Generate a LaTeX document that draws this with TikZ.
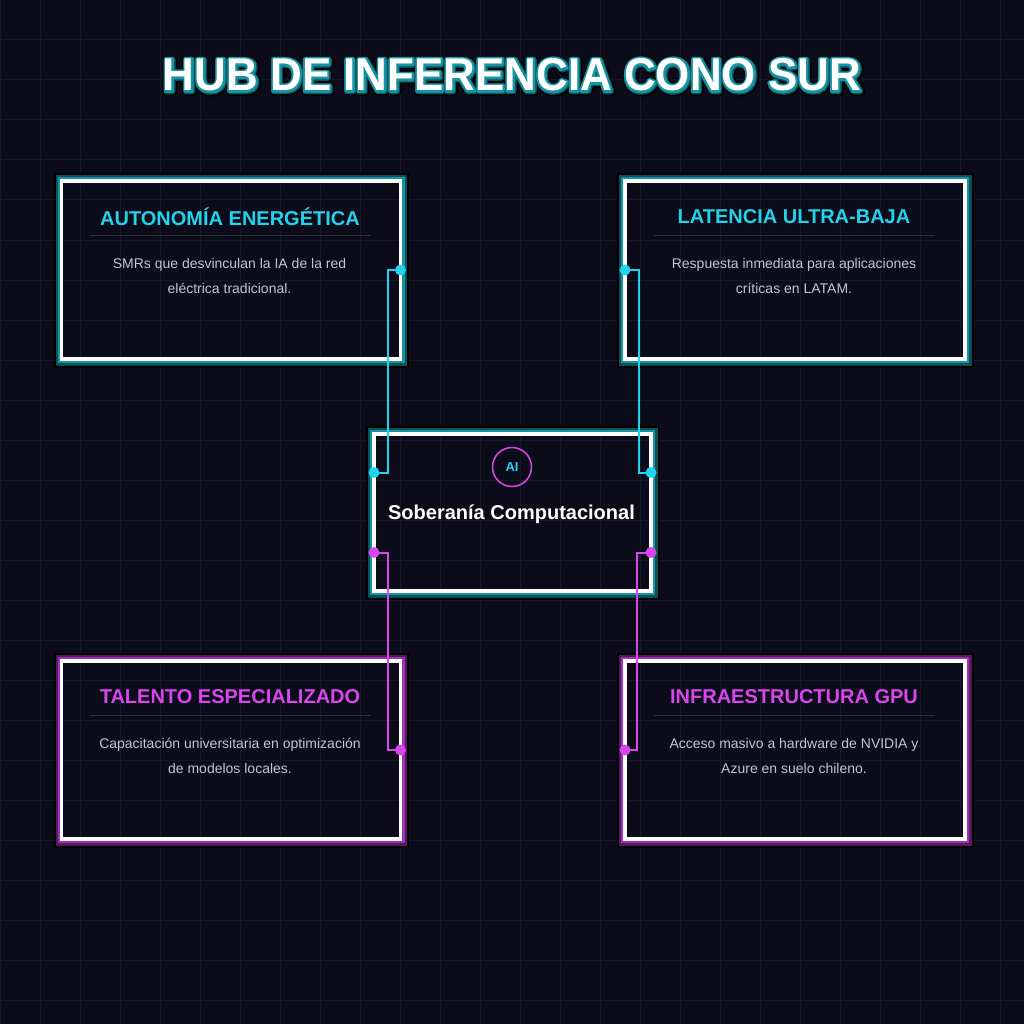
\documentclass[tikz,border=0pt]{standalone}
\usepackage{fontspec}
\setmainfont{Liberation Sans}
\newfontfamily\titleblack[FakeBold=18]{Liberation Sans Bold}
\newfontfamily\titledark[FakeBold=13]{Liberation Sans Bold}
\newfontfamily\titleteal[FakeBold=9]{Liberation Sans Bold}
\usetikzlibrary{calc}
\definecolor{bg}{HTML}{0B0B19}
\definecolor{gridc}{HTML}{17162B}
\definecolor{cyanc}{HTML}{22D3EE}
\definecolor{magc}{HTML}{D946EF}
\definecolor{tealdark}{HTML}{0A5058}
\definecolor{tealmid}{HTML}{1794A4}
\definecolor{magdark}{HTML}{561763}
\definecolor{magmid}{HTML}{A033B5}
\definecolor{bodyc}{HTML}{C4C4D2}
\definecolor{sepc}{HTML}{2C2C3E}
\tikzset{
  card/.style={draw=white, line width=3.5pt, rectangle, outer sep=0pt, inner sep=0pt},
  cardtitle/.style={font=\fontsize{20}{22}\selectfont\bfseries, inner sep=0pt},
  cardbody/.style={font=\fontsize{14}{25}\selectfont, text=bodyc, align=center, inner sep=0pt},
  sepline/.style={draw=sepc, line width=1pt},
  cconn/.style={draw=cyanc, line width=2pt},
  mconn/.style={draw=magc, line width=2pt},
  cdot/.style={circle, fill=cyanc, minimum size=11pt, inner sep=0pt},
  mdot/.style={circle, fill=magc, minimum size=11pt, inner sep=0pt},
  maintitle/.style={inner sep=0pt, xscale=0.955},
}
\newcommand{\glowbands}[3]{%
  \draw[black, line width=2.5pt] ($(#1.north west)+(-6.5,-6.5)$) rectangle ($(#1.south east)+(7.5,7.5)$);
  \draw[#2, line width=2.5pt] ($(#1.north west)+(-4.5,-4.5)$) rectangle ($(#1.south east)+(5.5,5.5)$);
  \draw[#3, line width=2.5pt] ($(#1.north west)+(-2.5,-2.5)$) rectangle ($(#1.south east)+(3,3)$);
}
\begin{document}
\begin{tikzpicture}[x=1pt,y=-1pt]
\useasboundingbox (0,0) rectangle (1024,1024);
\fill[bg] (0,0) rectangle (1024,1024);
% grid
\foreach \i in {0,40,...,1000}{
  \draw[gridc, line width=1pt] (\i,0) -- (\i,1024);
  \draw[gridc, line width=1pt] (0,\i) -- (1024,\i);
}
% main title with glow (stroked copies beneath the white text)
\begin{scope}[line join=round, line cap=round]
\node[maintitle, font=\fontsize{46}{52}\titleblack, text=black] (titleglowa) at (513,76) {HUB DE INFERENCIA CONO SUR};
\node[maintitle, font=\fontsize{46}{52}\titledark, text=tealdark] (titleglowb) at (512.5,75.5) {HUB DE INFERENCIA CONO SUR};
\node[maintitle, font=\fontsize{46}{52}\titleteal, text=tealmid] (titleglowc) at (512,75) {HUB DE INFERENCIA CONO SUR};
\end{scope}
\node[maintitle, font=\fontsize{46}{52}\selectfont\bfseries, text=white] (title) at (512,75) {HUB DE INFERENCIA CONO SUR};

% cards
\node[card, minimum width=339pt, minimum height=178pt] (tl) at (231,270) {};
\node[card, minimum width=340pt, minimum height=178pt] (tr) at (795,270) {};
\node[card, minimum width=339pt, minimum height=178pt] (bl) at (231,750) {};
\node[card, minimum width=340pt, minimum height=178pt] (br) at (795,750) {};
\node[card, minimum width=277pt, minimum height=157pt] (c) at (512.5,512.5) {};
\glowbands{tl}{tealdark}{tealmid}
\glowbands{tr}{tealdark}{tealmid}
\glowbands{c}{tealdark}{tealmid}
\glowbands{bl}{magdark}{magmid}
\glowbands{br}{magdark}{magmid}
\foreach \n in {tl,tr,bl,br,c}{
  \draw[white, line width=3.5pt] (\n.north west) rectangle (\n.south east);
}

% card texts
\node[cardtitle, text=cyanc] (tlt) at (230,217) {AUTONOMÍA ENERGÉTICA};
\draw[sepline] (90,235.5) -- (371,235.5);
\node[cardbody] (tlb) at (229.5,276) {SMRs que desvinculan la IA de la red\\eléctrica tradicional.};

\node[cardtitle, text=cyanc] (trt) at (794,217) {LATENCIA ULTRA-BAJA};
\draw[sepline] (654,235.5) -- (935,235.5);
\node[cardbody] (trb) at (794,276) {Respuesta inmediata para aplicaciones\\críticas en LATAM.};

\node[cardtitle, text=magc] (blt) at (230,697) {TALENTO ESPECIALIZADO};
\draw[sepline] (90,715.5) -- (371,715.5);
\node[cardbody] (blb) at (230,756) {Capacitación universitaria en optimización\\de modelos locales.};

\node[cardtitle, text=magc] (brt) at (794,697) {INFRAESTRUCTURA GPU};
\draw[sepline] (654,715.5) -- (935,715.5);
\node[cardbody] (brb) at (794,756) {Acceso masivo a hardware de NVIDIA y\\Azure en suelo chileno.};

% center content
\node[circle, draw=magc, line width=1.5pt, minimum size=39pt, inner sep=0pt,
      font=\fontsize{13}{15}\selectfont\bfseries, text=cyanc] (ai) at (512,467) {AI};
\node[font=\fontsize{20}{22}\selectfont\bfseries, text=white, inner sep=0pt] (ct) at (511.5,514) {Soberanía Computacional};

% connectors
\coordinate (cwu) at ([yshift=40pt]c.west);
\coordinate (ceu) at ([yshift=40pt]c.east);
\coordinate (cwd) at ([yshift=-40pt]c.west);
\coordinate (ced) at ([yshift=-40pt]c.east);
\draw[cconn] (tl.east) -- ++(-13,0) |- (cwu);
\draw[cconn] (tr.west) -- ++(14,0) |- (ceu);
\draw[mconn] (cwd) -- ++(14,0) |- (bl.east);
\draw[mconn] (ced) -- ++(-14,0) |- (br.west);
\node[cdot] at (tl.east) {};
\node[cdot] at (tr.west) {};
\node[cdot] at (cwu) {};
\node[cdot] at (ceu) {};
\node[mdot] at (cwd) {};
\node[mdot] at (ced) {};
\node[mdot] at (bl.east) {};
\node[mdot] at (br.west) {};
\end{tikzpicture}
\end{document}
